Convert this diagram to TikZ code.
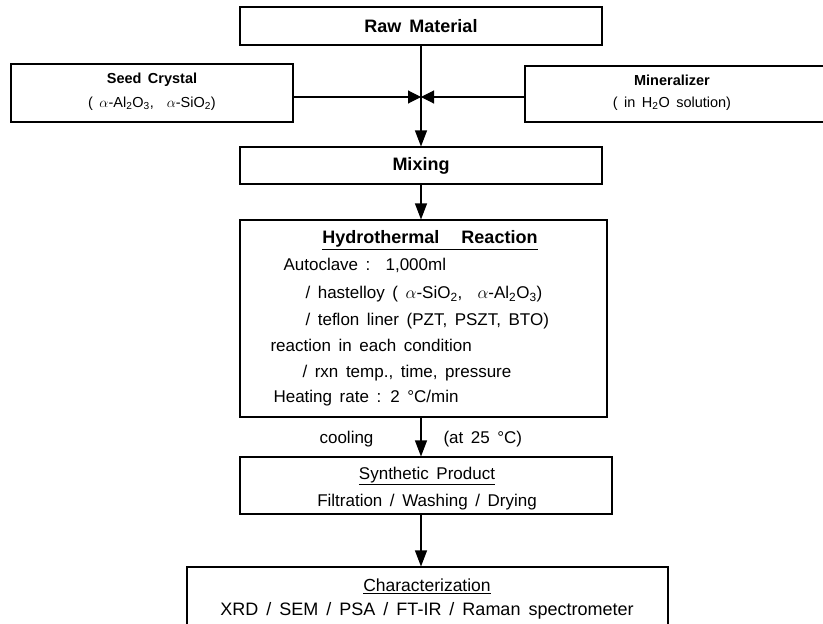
\documentclass[tikz,border=0pt]{standalone}
\usepackage{fontspec}
\setmainfont[WordSpace=1.6]{Liberation Sans}
\usetikzlibrary{arrows.meta}
\begin{document}
\begin{tikzpicture}[x=1pt,y=-1pt,line width=1.1pt,>={Triangle[length=16pt,width=12pt]},
  box/.style 2 args={draw,minimum width=#1,minimum height=#2,inner sep=0pt},
  txt/.style={inner sep=0pt,font=\fontsize{17}{20}\selectfont},
  head/.style={inner sep=0pt,font=\fontsize{18}{20}\selectfont\bfseries},
  small/.style={inner sep=0pt,font=\fontsize{14.5}{17}\selectfont}]
\useasboundingbox (0,0) rectangle (823,624);

\node[box={362pt}{38pt},head] (raw) at (421,26) {Raw Material};
\node[box={282pt}{58pt}] (seed) at (152,93) {};
\node[small,font=\fontsize{14.5}{17}\selectfont\bfseries] (seedT) at (152,80) {Seed Crystal};
\node[small] (seedS) at (152,104) {( $\alpha$-Al\textsubscript{2}O\textsubscript{3},\ \ $\alpha$-SiO\textsubscript{2})};
\node[box={301pt}{56pt}] (mineral) at (675.5,94) {};
\node[small,font=\fontsize{14.5}{17}\selectfont\bfseries] (mineralT) at (672,80) {Mineralizer};
\node[small] (mineralS) at (672,104) {( in H\textsubscript{2}O solution)};
\coordinate (j) at (421,97);

\node[box={362pt}{37pt},head] (mix) at (421,165.5) {Mixing};

\node[box={367pt}{197pt}] (hydro) at (423.5,318.5) {};
\node[head] (h0) at (430,240) {\underline{Hydrothermal\hspace{22pt}Reaction}};
\node[txt,anchor=mid west] (h1) at (283,268) {Autoclave :\ \ 1,000ml};
\node[txt,anchor=mid west] (h2) at (305,296) {/ hastelloy ( $\alpha$-SiO\textsubscript{2},\ \ $\alpha$-Al\textsubscript{2}O\textsubscript{3})};
\node[txt,anchor=mid west] (h3) at (305,323) {/ teflon liner (PZT, PSZT, BTO)};
\node[txt,anchor=mid west] (h4) at (270,349) {reaction in each condition};
\node[txt,anchor=mid west] (h5) at (302,375) {/ rxn temp., time, pressure};
\node[txt,anchor=mid west] (h6) at (273,400) {Heating rate : 2 °C/min};

\node[box={372pt}{57pt}] (synth) at (426,485.5) {};
\node[txt] (synthT) at (427,476) {\underline{Synthetic Product}};
\node[txt] (synthS) at (427,502) {Filtration / Washing / Drying};

\node[box={481pt}{76pt}] (char) at (427.5,605) {};
\node[txt,font=\fontsize{17.5}{20}\selectfont] (charT) at (427,586) {\underline{Characterization}};
\node[txt,font=\fontsize{18}{20}\selectfont] (charS) at (427,611) {XRD / SEM / PSA / FT-IR / Raman spectrometer};

\path[draw,->] (raw.south) -- (mix.north);
\path[draw,->,>={Triangle[length=13pt,width=13pt]}] (seed.east |- j) -- (j);
\path[draw,->,>={Triangle[length=13pt,width=13pt]}] (mineral.west |- j) -- (j);
\path[draw,->] (mix.south) -- (mix.south |- hydro.north);
\path[draw,->] (mix.south |- hydro.south) -- (mix.south |- synth.north)
  node[txt,pos=.55,left=47pt] (cool) {cooling}
  node[txt,pos=.55,right=22pt] (temp) {(at 25 °C)};
\path[draw,->] (mix.south |- synth.south) -- (mix.south |- char.north);
\end{tikzpicture}
\end{document}
